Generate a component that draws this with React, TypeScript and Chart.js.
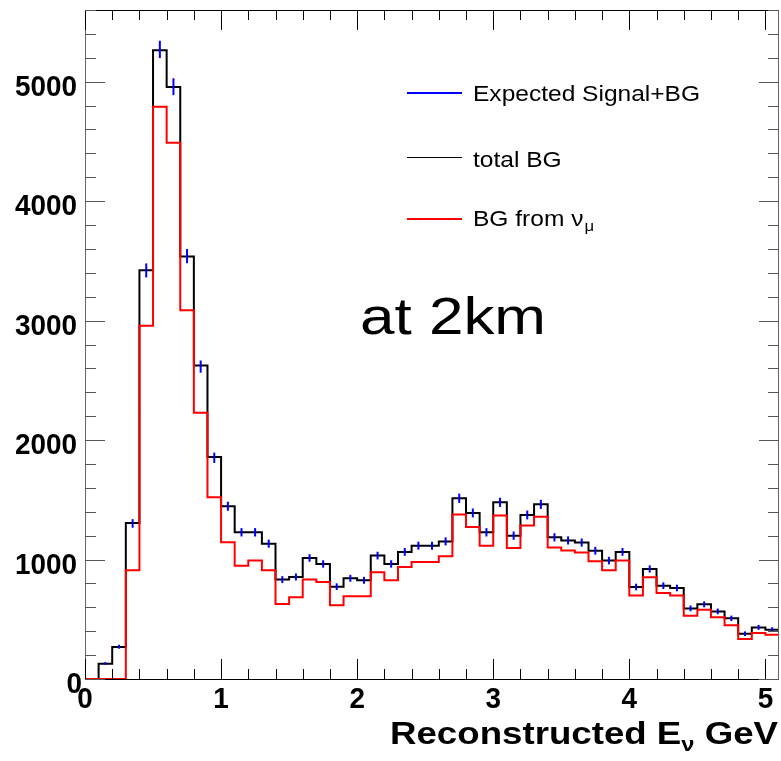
import React, { useEffect, useRef } from "react";
import { Chart, registerables } from "chart.js";

Chart.register(...registerables);

// ---- Data (bin low edges in GeV, bin width 0.1) ----
const binLow = [
  0.0, 0.1, 0.2, 0.3, 0.4, 0.5, 0.6, 0.7, 0.8, 0.9,
  1.0, 1.1, 1.2, 1.3, 1.4, 1.5, 1.6, 1.7, 1.8, 1.9,
  2.0, 2.1, 2.2, 2.3, 2.4, 2.5, 2.6, 2.7, 2.8, 2.9,
  3.0, 3.1, 3.2, 3.3, 3.4, 3.5, 3.6, 3.7, 3.8, 3.9,
  4.0, 4.1, 4.2, 4.3, 4.4, 4.5, 4.6, 4.7, 4.8, 4.9,
  5.0,
];
const binWidth = 0.1;

const totalBG = [
  0, 128, 268, 1306, 3422, 5264, 4955, 3537, 2624, 1859,
  1446, 1228, 1228, 1133, 832, 854, 1013, 963, 773, 843,
  826, 1033, 963, 1064, 1116, 1116, 1152, 1513, 1390, 1228,
  1479, 1200, 1373, 1462, 1186, 1160, 1142, 1074, 991, 1064,
  770, 921, 781, 762, 591, 625, 566, 508, 379, 432,
  413,
];

const bgFromNuMu = [
  0, 0, 0, 910, 2956, 4790, 4489, 3087, 2228, 1521,
  1144, 949, 991, 910, 628, 684, 832, 812, 618, 692,
  692, 893, 826, 938, 980, 980, 1027, 1376, 1273, 1116,
  1368, 1097, 1284, 1359, 1100, 1076, 1058, 985, 910, 991,
  700, 851, 720, 700, 530, 580, 516, 449, 335, 385,
  371,
];

const expectedSignalBG = [
  0, 130, 270, 1302, 3420, 5270, 4958, 3540, 2615, 1852,
  1446, 1228, 1228, 1133, 832, 854, 1013, 963, 773, 843,
  826, 1033, 963, 1064, 1116, 1116, 1152, 1513, 1390, 1228,
  1479, 1200, 1373, 1462, 1186, 1160, 1142, 1074, 991, 1064,
  770, 921, 781, 762, 591, 625, 566, 508, 379, 432,
  413,
];

const xMajorTicks = [0, 1, 2, 3, 4, 5];
const xTickLabels = ["0", "1", "2", "3", "4", "5"];
const yMajorTicks = [0, 1000, 2000, 3000, 4000, 5000];
const yTickLabels = ["0", "1000", "2000", "3000", "4000", "5000"];
const legendLabels = ["Expected Signal+BG", "total BG", "BG from \u03bd"];
const legendSub = ["", "", "\u03bc"];
const legendColors = ["#0000ff", "#000000", "#ff0000"];
const annotationText = "at 2km";
const xTitleMain = "Reconstructed E";
const xTitleSub = "\u03bd";
const xTitleTail = " GeV";

const X_MIN = 0;
const X_MAX = 5.1;
const Y_MIN = 0;
const Y_MAX = 5600;

const FONT = "'Liberation Sans', Arial, Helvetica, sans-serif";

function histPoints(values: number[]) {
  const pts = binLow.map((x, i) => ({ x, y: values[i] }));
  pts.push({ x: binLow[binLow.length - 1] + binWidth, y: values[values.length - 1] });
  return pts;
}

function drawStretched(
  ctx: CanvasRenderingContext2D,
  text: string,
  x: number,
  y: number,
  font: string,
  align: "left" | "right" | "center",
  sx: number
) {
  ctx.save();
  ctx.font = font;
  ctx.textAlign = "left";
  ctx.textBaseline = "alphabetic";
  const w = ctx.measureText(text).width * sx;
  const left = align === "right" ? x - w : align === "center" ? x - w / 2 : x;
  ctx.translate(left, y);
  ctx.scale(sx, 1);
  ctx.fillText(text, 0, 0);
  ctx.restore();
  return w;
}

const rootStylePlugin = {
  id: "rootStyle",
  afterDraw(chart: any) {
    const ctx: CanvasRenderingContext2D = chart.ctx;
    const { left, right, top, bottom } = chart.chartArea;
    const xs = chart.scales.x;
    const ys = chart.scales.y;
    ctx.save();
    ctx.fillStyle = "#000";

    // frame
    ctx.lineWidth = 1;
    ctx.strokeStyle = "#000";
    ctx.beginPath();
    ctx.moveTo(left, top + 0.5);
    ctx.lineTo(right, top + 0.5);
    ctx.moveTo(left, bottom + 0.5);
    ctx.lineTo(right, bottom + 0.5);
    ctx.stroke();
    ctx.strokeStyle = "#666";
    ctx.beginPath();
    ctx.moveTo(left + 0.5, top);
    ctx.lineTo(left + 0.5, bottom + 1);
    ctx.moveTo(right - 0.5, top);
    ctx.lineTo(right - 0.5, bottom + 1);
    ctx.stroke();

    // x ticks (inward, bottom and top)
    ctx.strokeStyle = "#000";
    ctx.beginPath();
    for (let v = 0; v <= X_MAX + 1e-9; v += 0.2) {
      const r = Math.round(v * 10) / 10;
      const isMajor = Math.abs(r - Math.round(r)) < 1e-6;
      const len = isMajor ? 20 : 10;
      const px = Math.round(xs.getPixelForValue(r)) + 0.5;
      ctx.moveTo(px, bottom);
      ctx.lineTo(px, bottom - len);
      ctx.moveTo(px, top);
      ctx.lineTo(px, top + len);
    }
    ctx.stroke();

    // y ticks (inward, left and right)
    ctx.strokeStyle = "#555";
    ctx.beginPath();
    for (let v = 0; v <= Y_MAX; v += 200) {
      const isMajor = v % 1000 === 0;
      const len = isMajor ? 20 : 11;
      const py = Math.round(ys.getPixelForValue(v)) + 0.5;
      ctx.moveTo(left, py);
      ctx.lineTo(left + len, py);
      ctx.moveTo(right, py);
      ctx.lineTo(right - len, py);
    }
    ctx.stroke();

    // tick labels
    const tickFont = `bold 30px ${FONT}`;
    yMajorTicks.forEach((v, i) => {
      const py = ys.getPixelForValue(v);
      const rx = v === 0 ? left - 3 : left - 8;
      drawStretched(ctx, yTickLabels[i], rx, py + 14.3, tickFont, "right", 0.93);
    });
    xMajorTicks.forEach((v, i) => {
      const px = xs.getPixelForValue(v);
      drawStretched(ctx, xTickLabels[i], px, 708, tickFont, "center", 0.93);
    });

    // x axis title with subscript nu
    const tFont = `bold 31px ${FONT}`;
    const sFont = `bold 20px ${FONT}`;
    ctx.font = tFont;
    const w1 = ctx.measureText(xTitleMain).width;
    const w3 = ctx.measureText(xTitleTail).width;
    ctx.font = sFont;
    const w2 = ctx.measureText(xTitleSub).width;
    const natural = w1 + w2 + w3;
    const targetRight = 778;
    const targetWidth = 388;
    const sxT = targetWidth / natural;
    let tx = targetRight - targetWidth;
    tx += drawStretched(ctx, xTitleMain, tx, 744, tFont, "left", sxT);
    tx += drawStretched(ctx, xTitleSub, tx, 751, sFont, "left", sxT);
    drawStretched(ctx, xTitleTail, tx, 744, tFont, "left", sxT);

    // legend
    const legY = [92.5, 156.5, 219];
    const legBase = [100.7, 166.5, 225.7];
    const legWidths = [2, 1, 2];
    const lFont = `22px ${FONT}`;
    legendLabels.forEach((lab, i) => {
      ctx.strokeStyle = legendColors[i];
      ctx.lineWidth = legWidths[i];
      ctx.beginPath();
      const ly = legWidths[i] === 1 ? Math.round(legY[i]) + 0.5 : Math.round(legY[i]);
      ctx.moveTo(407, ly);
      ctx.lineTo(462, ly);
      ctx.stroke();
      const w = drawStretched(ctx, lab, 473, legBase[i], lFont, "left", 1.115);
      if (legendSub[i]) {
        drawStretched(ctx, legendSub[i], 473 + w + 1, legBase[i] + 5, `15px ${FONT}`, "left", 1.115);
      }
    });

    // annotation
    const aFont = `52px ${FONT}`;
    ctx.font = aFont;
    const aw = ctx.measureText(annotationText).width;
    drawStretched(ctx, annotationText, 360, 333.5, aFont, "left", 186 / aw);

    ctx.restore();
  },
};

export default function App() {
  const canvasRef = useRef<HTMLCanvasElement | null>(null);

  useEffect(() => {
    const canvas = canvasRef.current;
    if (!canvas) return;

    const errRadius = (c: any) => {
      const raw = c.raw;
      if (!raw || !(raw.y > 0)) return 0;
      const s = c.chart.scales.y;
      return Math.abs(s.getPixelForValue(raw.y) - s.getPixelForValue(raw.y + Math.sqrt(raw.y)));
    };

    const chart = new Chart(canvas, {
      type: "line",
      data: {
        datasets: [
          {
            type: "scatter",
            label: legendLabels[0],
            data: binLow.map((x, i) => ({ x: x + binWidth / 2, y: expectedSignalBG[i] })),
            showLine: false,
            pointStyle: "line",
            rotation: 90,
            pointRadius: errRadius,
            pointBorderColor: "#0000ff",
            pointBackgroundColor: "#0000ff",
            pointBorderWidth: 2,
            clip: false,
          } as any,
          {
            type: "line",
            label: "BG from nu_mu",
            data: histPoints(bgFromNuMu),
            borderColor: "#ff0000",
            borderWidth: 2,
            pointRadius: 0,
            stepped: true,
            fill: false,
          },
          {
            type: "line",
            label: legendLabels[1],
            data: histPoints(totalBG),
            borderColor: "#000000",
            borderWidth: 2,
            pointRadius: 0,
            stepped: true,
            fill: false,
          },
        ],
      },
      options: {
        responsive: false,
        animation: false,
        devicePixelRatio: 1,
        parsing: false as any,
        normalized: true,
        layout: { padding: { left: 85, top: 10, right: 2, bottom: 82 } },
        scales: {
          x: { type: "linear", min: X_MIN, max: X_MAX, display: false },
          y: { type: "linear", min: Y_MIN, max: Y_MAX, display: false },
        },
        plugins: {
          legend: { display: false },
          tooltip: { enabled: false },
          title: { display: false },
        },
        events: [],
      },
      plugins: [rootStylePlugin],
    });

    return () => {
      chart.destroy();
    };
  }, []);

  return (
    <div style={{ position: "fixed", left: 0, top: 0, width: 781, height: 761, background: "#fff" }}>
      <canvas ref={canvasRef} width={781} height={761} style={{ display: "block", width: 781, height: 761 }} />
    </div>
  );
}
